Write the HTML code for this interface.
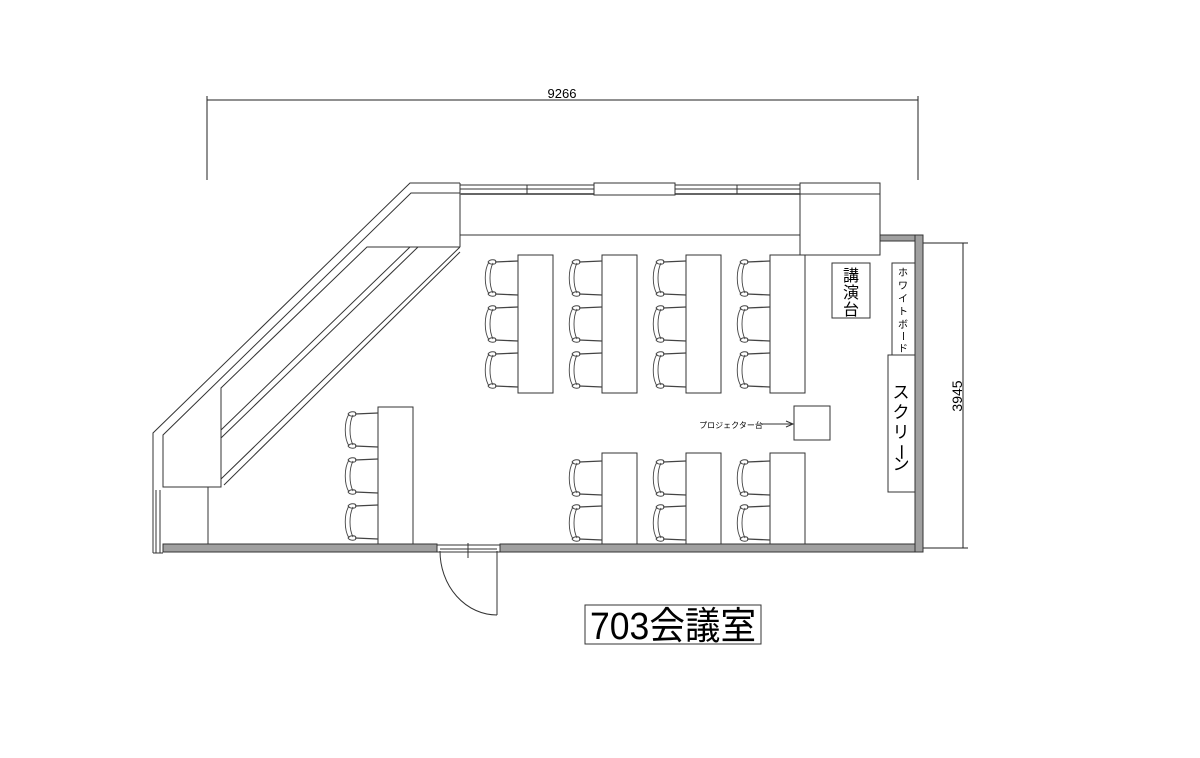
<!DOCTYPE html>
<html><head><meta charset="utf-8"><style>
html,body{margin:0;padding:0;background:#fff;}
svg{display:block;}
text{font-family:"Liberation Sans","Noto Sans CJK JP",sans-serif;fill:#000;}
</style></head><body>
<svg width="1200" height="758" viewBox="0 0 1200 758" xmlns="http://www.w3.org/2000/svg">
<defs>
<g id="ch" fill="none" stroke="#444" stroke-width="0.9">
<path d="M5,2 C0,10 0,26 5,34"/>
<path d="M9,3 C5,11 5,25 9,33"/>
<path d="M4,2 C6,-1 12,-1 12,2 C12,5 6,5 4,2 Z"/>
<path d="M4,34 C6,31 12,31 12,34 C12,37 6,37 4,34 Z"/>
<path d="M11,2 L34,1" stroke-width="1.3"/>
<path d="M11,34 L34,35" stroke-width="1.3"/>
</g>
</defs>
<g fill="none" stroke="#222" stroke-width="1">
<line x1="207" y1="100" x2="918" y2="100"/>
<line x1="207" y1="96" x2="207" y2="180"/>
<line x1="918" y1="96" x2="918" y2="180"/>
<line x1="963" y1="243" x2="963" y2="548"/>
<line x1="920" y1="243" x2="968" y2="243"/>
<line x1="920" y1="548" x2="968" y2="548"/>
</g>
<text x="562" y="98" font-size="13" text-anchor="middle">9266</text>
<text transform="translate(962,396) rotate(-90)" font-size="14" text-anchor="middle">3945</text>

<g fill="#a0a0a0" stroke="#333" stroke-width="1">
<rect x="163" y="544" width="274" height="8"/>
<rect x="500" y="544" width="423" height="8"/>
<rect x="915" y="235" width="8" height="317"/>
<rect x="880" y="235" width="35" height="6"/>
</g>

<g fill="none" stroke="#333" stroke-width="1">
<polyline points="460,183 410,183 153,433 153,490"/>
<polyline points="460,193 411,193 163,435 163,487 221,487 221,388 367,247 460,247"/>
<line x1="221" y1="430" x2="410" y2="247"/>
<line x1="221" y1="438" x2="418" y2="247"/>
<line x1="221" y1="479" x2="460" y2="247"/>
<line x1="224" y1="485" x2="460" y2="252"/>
<line x1="460" y1="183" x2="460" y2="247"/>
<line x1="153" y1="490" x2="153" y2="553"/>
<line x1="156" y1="490" x2="156" y2="553"/>
<line x1="160" y1="490" x2="160" y2="553"/>
<line x1="153" y1="553" x2="163" y2="553"/>
<line x1="208" y1="487" x2="208" y2="544"/>
<line x1="460" y1="185" x2="800" y2="185"/>
<line x1="460" y1="189" x2="800" y2="189"/>
<line x1="460" y1="194" x2="800" y2="194" stroke="#666" stroke-width="2"/>
<line x1="527" y1="185" x2="527" y2="194"/>
<line x1="737" y1="185" x2="737" y2="194"/>
<rect x="594" y="183" width="81" height="12" fill="#fff"/>
<line x1="460" y1="235" x2="800" y2="235"/>
<rect x="800" y="183" width="80" height="72"/>
<line x1="800" y1="194" x2="880" y2="194"/>
<rect x="832" y="263" width="38" height="55"/>
<rect x="892" y="263" width="23" height="92"/>
<rect x="888" y="355" width="27" height="137"/>
<rect x="794" y="406" width="36" height="34"/>
<line x1="762" y1="424" x2="792" y2="424"/>
<path d="M786,421 L793,424 L786,427" />
<rect x="437" y="545" width="63" height="7"/>
<line x1="440" y1="549" x2="497" y2="549"/>
<line x1="468" y1="543" x2="468" y2="558"/>
<line x1="497" y1="551" x2="497" y2="615"/>
<path d="M440,551 A57,64 0 0 0 497,615"/>
<rect x="518" y="255" width="35" height="138"/>
<rect x="602" y="255" width="35" height="138"/>
<rect x="686" y="255" width="35" height="138"/>
<rect x="770" y="255" width="35" height="138"/>
<rect x="602" y="453" width="35" height="91"/>
<rect x="686" y="453" width="35" height="91"/>
<rect x="770" y="453" width="35" height="91"/>
<rect x="378" y="407" width="35" height="137"/>
<rect x="585" y="605" width="176" height="39"/>
</g>

<use href="#ch" x="484" y="260"/><use href="#ch" x="484" y="306"/><use href="#ch" x="484" y="352"/>
<use href="#ch" x="568" y="260"/><use href="#ch" x="568" y="306"/><use href="#ch" x="568" y="352"/>
<use href="#ch" x="652" y="260"/><use href="#ch" x="652" y="306"/><use href="#ch" x="652" y="352"/>
<use href="#ch" x="736" y="260"/><use href="#ch" x="736" y="306"/><use href="#ch" x="736" y="352"/>
<use href="#ch" x="568" y="460"/><use href="#ch" x="568" y="505"/>
<use href="#ch" x="652" y="460"/><use href="#ch" x="652" y="505"/>
<use href="#ch" x="736" y="460"/><use href="#ch" x="736" y="505"/>
<use href="#ch" x="344" y="412"/><use href="#ch" x="344" y="458"/><use href="#ch" x="344" y="504"/>

<text x="851" y="281" font-size="16" text-anchor="middle">講</text>
<text x="851" y="298" font-size="16" text-anchor="middle">演</text>
<text x="851" y="315" font-size="16" text-anchor="middle">台</text>
<text font-size="10" text-anchor="middle">
<tspan x="903" y="276">ホ</tspan><tspan x="903" y="289">ワ</tspan><tspan x="903" y="302">イ</tspan><tspan x="903" y="315">ト</tspan><tspan x="903" y="328">ボ</tspan>
</text>
<text transform="translate(903,336) rotate(90)" font-size="10" text-anchor="middle" dy="3.5">ー</text>
<text x="903" y="352" font-size="10" text-anchor="middle">ド</text>
<text x="901" y="398" font-size="17" text-anchor="middle">ス</text>
<text x="901" y="418" font-size="17" text-anchor="middle">ク</text>
<text x="901" y="438" font-size="17" text-anchor="middle">リ</text>
<text transform="translate(901,452) rotate(90)" font-size="17" text-anchor="middle" dy="6">ー</text>
<text x="901" y="470" font-size="17" text-anchor="middle">ン</text>
<text x="731" y="428" font-size="8" text-anchor="middle">プロジェクター台</text>
<text x="590" y="639" font-size="38" textLength="166" lengthAdjust="spacingAndGlyphs">703会議室</text>
</svg>
</body></html>
